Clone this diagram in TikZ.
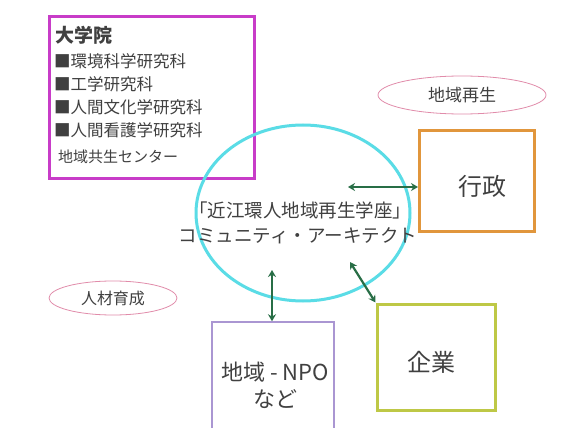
\documentclass[tikz,border=0pt]{standalone}
\usepackage{fontspec}
\newfontfamily\cjk{Noto Sans CJK JP}
\usetikzlibrary{arrows.meta,shapes.geometric}
\definecolor{mag}{RGB}{200,60,200}
\definecolor{cyanc}{RGB}{90,220,230}
\definecolor{orangec}{RGB}{225,150,60}
\definecolor{olivec}{RGB}{190,200,70}
\definecolor{purplec}{RGB}{170,150,210}
\definecolor{pinkc}{RGB}{225,140,170}
\definecolor{arr}{RGB}{40,110,70}
\tikzset{
  box/.style={draw, line width=3pt, fill=white, inner sep=0pt},
  tag/.style={draw=pinkc, line width=0.8pt, ellipse, fill=white},
  link/.style={draw=arr, line width=2.2pt, {Stealth[length=7pt,width=8pt]}-{Stealth[length=7pt,width=8pt]}},
  lbl/.style={font=\cjk, text=black!75, inner sep=0pt},
  item/.style={lbl, anchor=west, font=\cjk\fontsize{16.5}{18}\selectfont}
}
\begin{document}
\begin{tikzpicture}[x=1pt,y=-1pt]
\useasboundingbox[fill=white] (0,0) rectangle (563,428);
% university box
\node[box, draw=mag, minimum width=205pt, minimum height=162pt, anchor=north west] (univ) at (48,15) {};
\node[lbl, anchor=west, font=\cjk\bfseries\fontsize{19}{21}\selectfont] (u0) at (55,35) {大学院};
\node[item] (u1) at (54,61) {■環境科学研究科};
\node[item] (u2) at (54,84) {■工学研究科};
\node[item] (u3) at (54,107) {■人間文化学研究科};
\node[item] (u4) at (54,130) {■人間看護学研究科};
\node[lbl, anchor=west, font=\cjk\fontsize{15}{17}\selectfont] (u5) at (58,157) {地域共生センター};
% tags
\node[tag, minimum width=168pt, minimum height=38pt] (t1) at (462,95) {};
\node[lbl, font=\cjk\fontsize{17}{19}\selectfont] at (t1) {地域再生};
\node[tag, minimum width=128pt, minimum height=34pt] (t2) at (113,298) {};
\node[lbl, font=\cjk\fontsize{16}{18}\selectfont] at (t2) {人材育成};
% center circle
\draw[cyanc, line width=3pt] (303,213) ellipse (107pt and 88pt);
\node[lbl, font=\cjk\fontsize{18.5}{20}\selectfont] (c1) at (300,210) {「近江環人地域再生学座」};
\node[lbl, font=\cjk\fontsize{18.5}{20}\selectfont] (c2) at (298,236) {コミュニティ・アーキテクト};
% boxes
\node[box, draw=orangec, minimum width=115pt, minimum height=100pt] (gov) at (477,181) {};
\node[lbl, font=\cjk\fontsize{24}{26}\selectfont] at (482,186) {行政};
\node[box, draw=olivec, minimum width=118pt, minimum height=106pt] (corp) at (436,357) {};
\node[lbl, font=\cjk\fontsize{24}{26}\selectfont] at (431,362) {企業};
\node[box, draw=purplec, line width=1.5pt, minimum width=122pt, minimum height=120pt] (npo) at (273,382) {};
\node[lbl, font=\cjk\fontsize{22}{27}\selectfont, align=center] at (275,385) {地域 - NPO\\など};
% connectors
\coordinate (a1) at (348,187);
\coordinate (a2) at (272,270);
\coordinate (a3) at (350,262);
\draw[link] (a1) -- (gov.west |- a1);
\draw[link] (a2) -- (npo.north -| a2);
\draw[link] (a3) -- (corp.north west);
\end{tikzpicture}
\end{document}
